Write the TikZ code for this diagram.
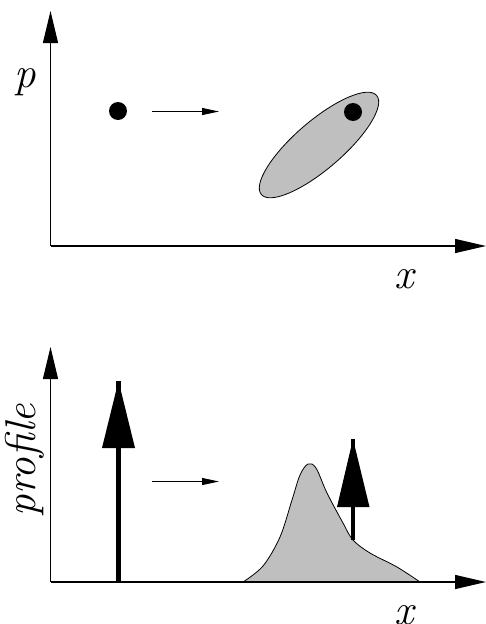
\documentclass[tikz,border=0pt]{standalone}
\usetikzlibrary{arrows.meta,shapes.geometric}
\begin{document}
\begin{tikzpicture}[x=1pt,y=-1pt,
  axis/.style={line width=1.2pt,-{Triangle[length=32pt,width=15pt]}},
  axisx/.style={line width=1.2pt,-{Triangle[length=31pt,width=14pt]}},
  thin/.style={line width=0.9pt,-{Triangle[length=17pt,width=7pt]}},
  lbl/.style={font=\fontsize{43}{50}\selectfont\itshape,inner sep=0pt},
  dot/.style={circle,fill=black,minimum size=18pt,inner sep=0pt},
  shaft/.style={line width=4.8pt},
  graybody/.style={fill=black!25,draw=black,line width=0.8pt}]
\useasboundingbox (0,0) rectangle (486,624);
% top plot
\coordinate (o1) at (50.5,246);
\coordinate (y1) at (50.5,11);
\coordinate (x1) at (486,246);
\draw[axis] (o1) -- (y1);
\draw[axisx] (o1) -- (x1);
\node[lbl,anchor=base] (plbl) at (25,87) {p};
\node[lbl,anchor=base] (xlbl1) at (404,288) {x};
\node[graybody,ellipse,minimum width=152pt,minimum height=48pt,rotate=40.7,inner sep=0pt] (ell) at (319,145) {};
\node[dot] (d1) at (118,111) {};
\node[dot] (d2) at (353,112) {};
\coordinate (a1s) at (152,111.5);
\coordinate (a1e) at (219,111.5);
\draw[thin] (a1s) -- (a1e);
% bottom plot
\coordinate (o2) at (50.5,582);
\coordinate (y2) at (50.5,347);
\coordinate (x2) at (486,582);
\draw[graybody] plot[smooth,tension=0.55] coordinates {(243,582) (263,566) (280,537) (292,500) (300,475) (308,464) (316,468) (327,493) (343,523) (353,540) (370,553) (397,567) (420,582)} -- cycle;
\draw[axis] (o2) -- (y2);
\draw[axisx] (o2) -- (x2);
\node[lbl,anchor=base,rotate=90] (prof) at (35,460) {profile};
\node[lbl,anchor=base] (xlbl2) at (404,624) {x};
\coordinate (b1) at (118.5,582);
\coordinate (t1) at (118.5,381);
\draw[shaft] (b1) -- (t1);
\fill (102,448) -- (135,448) -- (118.5,381) -- cycle;
\coordinate (b2) at (353,540);
\coordinate (t2) at (353,439);
\draw[shaft] (b2) -- (t2);
\fill (337,507) -- (369.5,507) -- (353,439) -- cycle;
\coordinate (a2s) at (152,481.5);
\coordinate (a2e) at (219,481.5);
\draw[thin] (a2s) -- (a2e);
\end{tikzpicture}
\end{document}
